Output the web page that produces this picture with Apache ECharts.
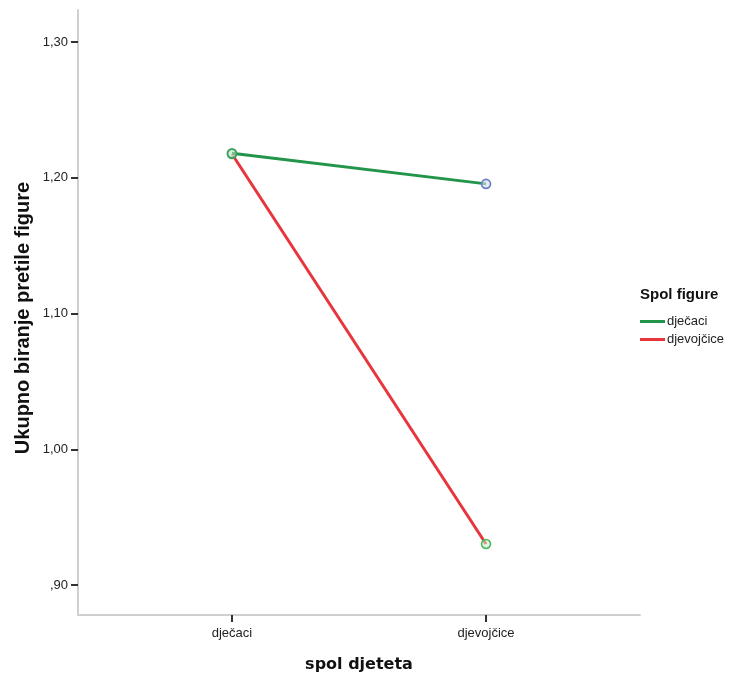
<!DOCTYPE html>
<html>
<head>
<meta charset="utf-8">
<script src="https://cdn.jsdelivr.net/npm/echarts@6/dist/echarts.min.js"></script>
<style>
html,body{margin:0;padding:0;background:#fff;overflow:hidden;}
#chart{width:732px;height:675px;}
</style>
</head>
<body>
<div id="chart"></div>
<script>
// Data
const categories = ['dječaci', 'djevojčice'];
const seriesNames = ['dječaci', 'djevojčice'];
const boysFigure = [1.218, 1.1955];
const girlsFigure = [1.2175, 0.9302];
const yTicks = [0.9, 1.0, 1.1, 1.2, 1.3];
const xTicks = [0, 1];
const yTitle = 'Ukupno biranje pretile figure';
const xTitle = 'spol djeteta';
const legendTitle = 'Spol figure';

const chart = echarts.init(document.getElementById('chart'), null, {renderer: 'canvas', width: 732, height: 675});

function fmtY(v) {
  return v.toFixed(2).replace('.', ',').replace(/^0/, '');
}
const lineColors = ['#22954a', '#e8353b'];
const markerColors = [['#3fa060', '#6b7fc0'], ['#3fa060', '#4cb860']];
const markerFills = [['rgba(200,235,210,0.5)', 'rgba(215,222,245,0.6)'], ['rgba(200,235,210,0.5)', 'rgba(200,235,210,0.5)']];

function buildSeries(name, values, idx) {
  return {
    name: name,
    type: 'line',
    data: values.map((v, i) => ({
      value: [i, v],
      itemStyle: {color: markerFills[idx][i], borderColor: markerColors[idx][i], borderWidth: 1.6}
    })),
    symbol: 'circle',
    symbolSize: 9,
    showAllSymbol: true,
    lineStyle: {color: lineColors[idx], width: 3},
    itemStyle: {color: lineColors[idx]},
    z: idx === 0 ? 3 : 2,
    animation: false
  };
}

chart.setOption({
  animation: false,
  backgroundColor: '#ffffff',
  grid: {left: 78, right: 92, top: 10, bottom: 60, containLabel: false, outerBoundsMode: 'none'},
  xAxis: {
    type: 'value',
    min: -0.606,
    max: 1.606,
    splitLine: {show: false},
    axisLine: {show: true, onZero: false, lineStyle: {color: '#cfcfcf', width: 2}},
    axisTick: {show: true, customValues: xTicks, length: 7, lineStyle: {color: '#333', width: 2}},
    axisLabel: {
      customValues: xTicks,
      formatter: v => categories[Math.round(v)],
      fontFamily: 'Liberation Sans', fontSize: 13, color: '#222', margin: 12
    },
    name: xTitle,
    nameLocation: 'middle',
    nameGap: 42,
    nameTextStyle: {fontFamily: 'DejaVu Sans', fontWeight: 'bold', fontSize: 16, color: '#111'}
  },
  yAxis: {
    type: 'value',
    min: 0.8779,
    max: 1.3236,
    splitLine: {show: false},
    axisLine: {show: true, onZero: false, lineStyle: {color: '#cfcfcf', width: 2}},
    axisTick: {show: true, customValues: yTicks, length: 7, lineStyle: {color: '#333', width: 2}},
    axisLabel: {
      customValues: yTicks,
      formatter: fmtY,
      fontFamily: 'Liberation Sans', fontSize: 13, color: '#222', margin: 10
    }
  },
  legend: {
    orient: 'vertical',
    left: 640,
    top: 315,
    icon: 'rect',
    itemWidth: 25,
    itemHeight: 3,
    itemGap: 5,
    data: seriesNames,
    textStyle: {fontFamily: 'Liberation Sans', fontSize: 13, color: '#222', padding: [0, 0, 0, -3]},
    padding: 0
  },
  graphic: [{
    type: 'text',
    left: 640,
    top: 287,
    style: {text: legendTitle, font: 'bold 15px "Liberation Sans"', fill: '#111'}
  }, {
    type: 'text',
    x: 23,
    y: 318,
    rotation: Math.PI / 2,
    style: {text: yTitle, font: 'bold 20px "Liberation Sans"', fill: '#111', align: 'center', verticalAlign: 'middle'}
  }],
  series: [
    buildSeries(seriesNames[0], boysFigure, 0),
    buildSeries(seriesNames[1], girlsFigure, 1)
  ]
});
</script>
</body>
</html>
